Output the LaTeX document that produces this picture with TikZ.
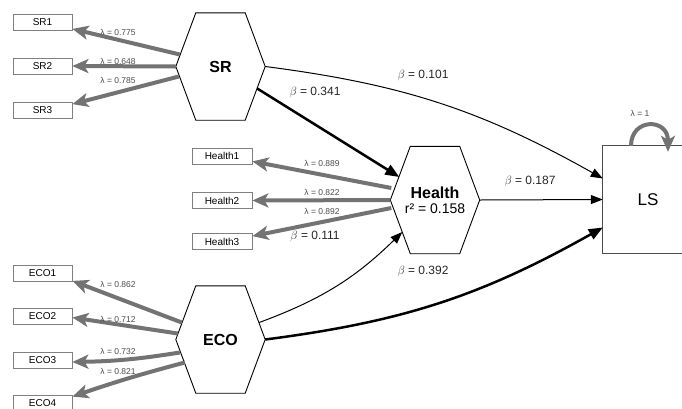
\documentclass[tikz,border=0pt]{standalone}
\usepackage{fontspec}
\setmainfont{Liberation Sans}
\usetikzlibrary{arrows.meta,positioning,calc}

\tikzset{
  latent/.style={minimum width=89pt,minimum height=107pt,inner sep=0pt,font=\fontsize{16}{18}\selectfont\bfseries},
  obs/.style={draw=black!50,line width=0.8pt,minimum width=59pt,minimum height=16pt,inner sep=0pt,font=\fontsize{10}{12}\selectfont},
  ind/.style={draw=black!55,line width=4pt,-{Stealth[length=16pt,width=14pt,inset=4pt]}},
  reg/.style={line width=1pt,-{Triangle[length=12pt,width=9pt]}},
  bigreg/.style={line width=2.5pt,-{Triangle[length=14pt,width=11pt]}},
  lam/.style={font=\fontsize{8.5}{9}\selectfont,text=black!70,inner sep=1pt},
  beta/.style={font=\fontsize{12}{14}\selectfont,text=black!85,inner sep=1pt},
}
% hexagon round a latent node
\newcommand\hexa[1]{\draw[line width=0.9pt] (#1.west) -- ([xshift=20pt]#1.north west) -- ([xshift=-20pt]#1.north east) -- (#1.east) -- ([xshift=-20pt]#1.south east) -- ([xshift=20pt]#1.south west) -- cycle;}

\begin{document}
\begin{tikzpicture}[x=1pt,y=-1pt]
    \useasboundingbox (0,0) rectangle (682,408);

    % Latent variables
    \node[latent] (SR) at (220.5,66.5) {SR};
    \node[latent,align=center] (Health) at (435,200) {Health\\[-3pt]{\mdseries\fontsize{14}{15}\selectfont r² = 0.158}};
    \node[latent] (ECO) at (220.5,339.5) {ECO};
    \hexa{SR}
    \hexa{Health}
    \hexa{ECO}
    \node[minimum width=90pt,minimum height=107pt,inner sep=0pt,font=\fontsize{17}{18}\selectfont] (LS) at (648,199.5) {LS};
    \draw[draw=black!70,line width=0.9pt] ([xshift=60pt]LS.north east) -- (LS.north west) -- (LS.south west) -- ([xshift=60pt]LS.south east);

    % Indicators
    \node[obs] (SR1) at (42.5,22.5) {SR1};
    \node[obs] (SR2) at (42.5,66) {SR2};
    \node[obs] (SR3) at (42.5,110.5) {SR3};
    \node[obs,minimum width=60pt] (Health1) at (222,156) {Health1};
    \node[obs,minimum width=60pt] (Health2) at (222,200.5) {Health2};
    \node[obs,minimum width=60pt] (Health3) at (222,241.5) {Health3};
    \node[obs] (ECO1) at (42.5,273.5) {ECO1};
    \node[obs] (ECO2) at (42.5,316.5) {ECO2};
    \node[obs] (ECO3) at (42.5,360) {ECO3};
    \node[obs] (ECO4) at (42.5,403) {ECO4};

    % Loadings
    \draw[ind] ([xshift=4pt,yshift=12pt]SR.west) -- ([yshift=2pt]SR1.south east);
    \draw[ind] (SR.west) -- (SR2.east);
    \draw[ind] ([xshift=3pt,yshift=-10pt]SR.west) -- ([yshift=-2pt]SR3.north east);
    \draw[ind] ([xshift=1pt,yshift=12pt]Health.west) -- ([yshift=3pt]Health1.south east);
    \draw[ind] (Health.west) -- (Health2.east);
    \draw[ind] ([xshift=1pt,yshift=-8pt]Health.west) -- ([yshift=-3pt]Health3.north east);
    \draw[ind] ([xshift=6pt,yshift=17pt]ECO.west) -- ([yshift=1pt]ECO1.south east);
    \draw[ind] ([xshift=2pt,yshift=6pt]ECO.west) -- ([yshift=-1pt]ECO2.east);
    \draw[ind] ([xshift=4pt,yshift=-13pt]ECO.west) to[bend left=4] ([yshift=-2pt]ECO3.east);
    \draw[ind] ([xshift=9pt,yshift=-23pt]ECO.west) to[bend right=2] ([yshift=-2pt]ECO4.north east);
    \draw[ind] ([xshift=-17pt]LS.north) .. controls +(0,-28) and +(0,-34) .. ([xshift=20pt,yshift=-6pt]LS.north);

    \node[lam] (l1) at (118,32) {λ = 0.775};
    \node[lam] (l2) at (118,61) {λ = 0.648};
    \node[lam] (l3) at (118,80) {λ = 0.785};
    \node[lam] (l4) at (322,163) {λ = 0.889};
    \node[lam] (l5) at (322,192) {λ = 0.822};
    \node[lam] (l6) at (322,211) {λ = 0.892};
    \node[lam] (l7) at (118,284) {λ = 0.862};
    \node[lam] (l8) at (118,319) {λ = 0.712};
    \node[lam] (l9) at (118,351) {λ = 0.732};
    \node[lam] (l10) at (118,371) {λ = 0.821};
    \node[lam] (l11) at (640,113) {λ = 1};

    % Structural paths
    \draw[reg] (SR.east) to[bend left=11] ([yshift=21pt]LS.west);
    \draw[bigreg] ([xshift=-8pt,yshift=-22pt]SR.east) -- ([xshift=9pt,yshift=23pt]Health.west);
    \draw[reg] (Health.east) -- (LS.west);
    \draw[reg] ([xshift=-6pt,yshift=17pt]ECO.east) to[bend right=12] ([xshift=12pt,yshift=-32pt]Health.west);
    \draw[bigreg] (ECO.east) to[bend right=11] ([yshift=-28pt]LS.west);

    \node[beta] (b1) at (315,92) {$\beta$ = 0.341};
    \node[beta] (b2) at (423,75) {$\beta$ = 0.101};
    \node[beta] (b3) at (530,181) {$\beta$ = 0.187};
    \node[beta] (b4) at (315,236) {$\beta$ = 0.111};
    \node[beta] (b5) at (423,271) {$\beta$ = 0.392};
\end{tikzpicture}
\end{document}
